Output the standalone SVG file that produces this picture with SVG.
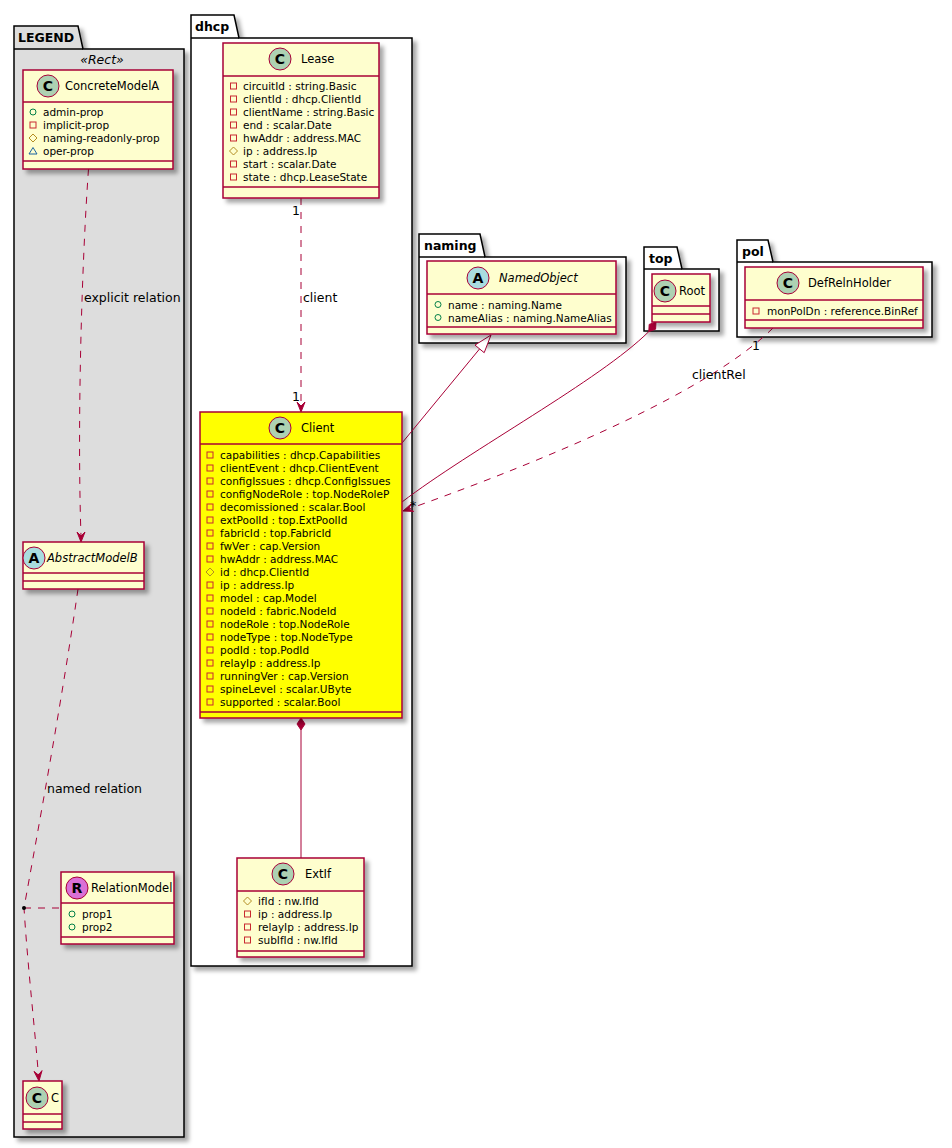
<svg xmlns="http://www.w3.org/2000/svg" xmlns:xlink="http://www.w3.org/1999/xlink" width="952" height="1148" viewBox="0 0 952 1148">
<style>
text{font-family:"DejaVu Sans","Liberation Sans",sans-serif;fill:#000}
.pkg{stroke:#000;stroke-width:1.5;fill:#fff}
.pkgl{stroke:#000;stroke-width:1.5;fill:none}
.ptxt{font-size:12.5px;font-weight:bold}
.cls{fill:#FEFECE;stroke:#A80036;stroke-width:1.5}
.sep{stroke:#A80036;stroke-width:1.5}
.cname{font-size:11.5px}
.ital{font-style:italic}
.attr{font-size:10.5px}
.badge{font-size:14px;font-weight:bold;text-anchor:middle}
.bc{fill:#ADD1B2;stroke:#A80036;stroke-width:1}
.ba{fill:#A9DCDF;stroke:#A80036;stroke-width:1}
.br{fill:#DA70D6;stroke:#A80036;stroke-width:1}
.edge{fill:none;stroke:#A80036;stroke-width:1}
.dash{stroke-dasharray:7,7}
.head{fill:#A80036;stroke:#A80036;stroke-width:1}
.lbl{font-size:12.5px}
</style>
<defs>
<filter id="sh" x="-10%" y="-10%" width="130%" height="130%">
<feDropShadow dx="4" dy="4" stdDeviation="2" flood-color="#000" flood-opacity="0.35"/>
</filter>
<g id="pv"><rect x="-3" y="-3" width="6" height="6" fill="none" stroke="#C82930" stroke-width="1"/></g>
<g id="pb"><circle r="3" fill="none" stroke="#038048" stroke-width="1"/></g>
<g id="pt"><path d="M0,-4 L4,0 L0,4 L-4,0 Z" fill="none" stroke="#B38D22" stroke-width="1"/></g>
<g id="pk"><path d="M0,-3.5 L4,3 L-4,3 Z" fill="none" stroke="#1963A0" stroke-width="1"/></g>
</defs>
<rect width="952" height="1148" fill="#fff"/>

<g id="packages">
<g id="pkg-legend">
<path class="pkg" style="fill:#DDDDDD" filter="url(#sh)" d="M14,26 H78 L83,49 H184 V1137 H14 Z"/>
<path class="pkgl" d="M14,49 H83"/>
<text class="ptxt" x="18" y="42">LEGEND</text>
<text x="102" y="64" style="font-size:12.5px;font-style:italic" text-anchor="middle">«Rect»</text>
</g>
<g id="pkg-dhcp">
<path class="pkg" filter="url(#sh)" d="M191,15 H234 L239,38 H412 V966 H191 Z"/>
<path class="pkgl" d="M191,38 H239"/>
<text class="ptxt" x="195" y="31">dhcp</text>
</g>
<g id="pkg-naming">
<path class="pkg" filter="url(#sh)" d="M419,234 H480 L485,257 H626 V343 H419 Z"/>
<path class="pkgl" d="M419,257 H485"/>
<text class="ptxt" x="424" y="250">naming</text>
</g>
<g id="pkg-top">
<path class="pkg" filter="url(#sh)" d="M644,247 H677 L682,269 H719 V331 H644 Z"/>
<path class="pkgl" d="M644,269 H682"/>
<text class="ptxt" x="649" y="263">top</text>
</g>
<g id="pkg-pol">
<path class="pkg" filter="url(#sh)" d="M737,240 H768 L773,262 H932 V337 H737 Z"/>
<path class="pkgl" d="M737,262 H773"/>
<text class="ptxt" x="742" y="256">pol</text>
</g>
</g>

<g id="connectors">
<path class="edge dash" d="M88.5,169 C82,260 77,420 81,536"/>
<path class="head" d="M81,542 L77,532 L81,536 L85,532 Z"/>
<text class="lbl" x="84" y="302">explicit relation</text>
<path class="edge dash" d="M78,589 C62,700 38,830 24,908 C28,970 35,1030 38.4,1075"/>
<path class="head" d="M39,1081 L34,1071.4 L38.4,1075 L42,1070.6 Z"/>
<text class="lbl" x="47" y="793">named relation</text>
<path class="edge dash" d="M24,908 H61"/>
<circle cx="24" cy="908" r="2" fill="#000"/>
<path class="edge dash" d="M301,198 V406"/>
<path class="head" d="M301,412 L297,402 L301,406 L305,402 Z"/>
<text class="lbl" x="292" y="215">1</text>
<text class="lbl" x="303" y="302">client</text>
<text class="lbl" x="292" y="401">1</text>
<path class="head" d="M301,718 L305,724 L301,730 L297,724 Z"/>
<path class="edge" d="M301,730 V858"/>
<path class="edge" d="M402,443 L479.6,348.9"/>
<path d="M491,335 L484.2,352.7 L475,345.1 Z" fill="#fff" stroke="#A80036" stroke-width="1"/>
<path class="head" d="M656,322 L655.6,329.2 L648.8,331.6 L649.2,324.4 Z"/>
<path class="edge" d="M648.8,331.6 C600,380 470,450 402,502"/>
<path class="edge dash" d="M773,328 C710,390 560,455 408.7,509"/>
<path class="head" d="M403,511 L413.7,511.4 L408.7,509 L411.1,503.9 Z"/>
<text class="lbl" x="752" y="350">1</text>
<text class="lbl" x="692" y="379">clientRel</text>
<text class="lbl" x="410" y="510">*</text>
</g>

<g id="ConcreteModelA">
<rect class="cls" filter="url(#sh)" x="23" y="70" width="150" height="99"/>
<line class="sep" x1="23" y1="102" x2="173" y2="102"/>
<line class="sep" x1="23" y1="161" x2="173" y2="161"/>
<circle class="bc" cx="48" cy="86" r="11"/>
<text class="badge" x="48" y="91">C</text>
<text class="cname" x="65" y="90">ConcreteModelA</text>
<use xlink:href="#pb" x="33" y="112"/><text class="attr" x="43" y="116">admin-prop</text>
<use xlink:href="#pv" x="33" y="125"/><text class="attr" x="43" y="129">implicit-prop</text>
<use xlink:href="#pt" x="33" y="138"/><text class="attr" x="43" y="142">naming-readonly-prop</text>
<use xlink:href="#pk" x="33" y="151"/><text class="attr" x="43" y="155">oper-prop</text>
</g>

<g id="AbstractModelB">
<rect class="cls" filter="url(#sh)" x="23" y="542" width="121" height="47"/>
<line class="sep" x1="23" y1="573" x2="144" y2="573"/>
<line class="sep" x1="23" y1="581" x2="144" y2="581"/>
<circle class="ba" cx="34" cy="558" r="11"/>
<text class="badge" x="34" y="563">A</text>
<text class="cname ital" x="47" y="562">AbstractModelB</text>
</g>

<g id="RelationModel">
<rect class="cls" filter="url(#sh)" x="61" y="872" width="113" height="72"/>
<line class="sep" x1="61" y1="903" x2="174" y2="903"/>
<line class="sep" x1="61" y1="937" x2="174" y2="937"/>
<circle class="br" cx="77" cy="888" r="11"/>
<text class="badge" x="77" y="893">R</text>
<text class="cname" x="91" y="892">RelationModel</text>
<use xlink:href="#pb" x="72" y="914"/><text class="attr" x="82" y="918">prop1</text>
<use xlink:href="#pb" x="72" y="927"/><text class="attr" x="82" y="931">prop2</text>
</g>

<g id="C">
<rect class="cls" filter="url(#sh)" x="23" y="1081" width="39" height="48"/>
<line class="sep" x1="23" y1="1114" x2="62" y2="1114"/>
<line class="sep" x1="23" y1="1122" x2="62" y2="1122"/>
<circle class="bc" cx="37" cy="1098" r="11"/>
<text class="badge" x="37" y="1103">C</text>
<text class="cname" x="51" y="1102">C</text>
</g>

<g id="Lease">
<rect class="cls" filter="url(#sh)" x="223" y="43" width="156" height="155"/>
<line class="sep" x1="223" y1="76" x2="379" y2="76"/>
<line class="sep" x1="223" y1="187" x2="379" y2="187"/>
<circle class="bc" cx="280" cy="59" r="11"/>
<text class="badge" x="280" y="64">C</text>
<text class="cname" x="301" y="63">Lease</text>
<use xlink:href="#pv" x="233.5" y="86"/><text class="attr" x="243" y="90">circuitId : string.Basic</text>
<use xlink:href="#pv" x="233.5" y="99"/><text class="attr" x="243" y="103">clientId : dhcp.ClientId</text>
<use xlink:href="#pv" x="233.5" y="112"/><text class="attr" x="243" y="116">clientName : string.Basic</text>
<use xlink:href="#pv" x="233.5" y="125"/><text class="attr" x="243" y="129">end : scalar.Date</text>
<use xlink:href="#pv" x="233.5" y="138"/><text class="attr" x="243" y="142">hwAddr : address.MAC</text>
<use xlink:href="#pt" x="233.5" y="151"/><text class="attr" x="243" y="155">ip : address.Ip</text>
<use xlink:href="#pv" x="233.5" y="164"/><text class="attr" x="243" y="168">start : scalar.Date</text>
<use xlink:href="#pv" x="233.5" y="177"/><text class="attr" x="243" y="181">state : dhcp.LeaseState</text>
</g>

<g id="Client">
<rect class="cls" filter="url(#sh)" style="fill:#FFFF00" x="200" y="412" width="202" height="306"/>
<line class="sep" x1="200" y1="444" x2="402" y2="444"/>
<line class="sep" x1="200" y1="712" x2="402" y2="712"/>
<circle class="bc" cx="280" cy="428" r="11"/>
<text class="badge" x="280" y="433">C</text>
<text class="cname" x="301" y="432">Client</text>
<use xlink:href="#pv" x="210" y="455"/><text class="attr" x="220" y="459">capabilities : dhcp.Capabilities</text>
<use xlink:href="#pv" x="210" y="468"/><text class="attr" x="220" y="472">clientEvent : dhcp.ClientEvent</text>
<use xlink:href="#pv" x="210" y="481"/><text class="attr" x="220" y="485">configIssues : dhcp.ConfigIssues</text>
<use xlink:href="#pv" x="210" y="494"/><text class="attr" x="220" y="498">configNodeRole : top.NodeRoleP</text>
<use xlink:href="#pv" x="210" y="507"/><text class="attr" x="220" y="511">decomissioned : scalar.Bool</text>
<use xlink:href="#pv" x="210" y="520"/><text class="attr" x="220" y="524">extPoolId : top.ExtPoolId</text>
<use xlink:href="#pv" x="210" y="533"/><text class="attr" x="220" y="537">fabricId : top.FabricId</text>
<use xlink:href="#pv" x="210" y="546"/><text class="attr" x="220" y="550">fwVer : cap.Version</text>
<use xlink:href="#pv" x="210" y="559"/><text class="attr" x="220" y="563">hwAddr : address.MAC</text>
<use xlink:href="#pt" x="210" y="572"/><text class="attr" x="220" y="576">id : dhcp.ClientId</text>
<use xlink:href="#pv" x="210" y="585"/><text class="attr" x="220" y="589">ip : address.Ip</text>
<use xlink:href="#pv" x="210" y="598"/><text class="attr" x="220" y="602">model : cap.Model</text>
<use xlink:href="#pv" x="210" y="611"/><text class="attr" x="220" y="615">nodeId : fabric.NodeId</text>
<use xlink:href="#pv" x="210" y="624"/><text class="attr" x="220" y="628">nodeRole : top.NodeRole</text>
<use xlink:href="#pv" x="210" y="637"/><text class="attr" x="220" y="641">nodeType : top.NodeType</text>
<use xlink:href="#pv" x="210" y="650"/><text class="attr" x="220" y="654">podId : top.PodId</text>
<use xlink:href="#pv" x="210" y="663"/><text class="attr" x="220" y="667">relayIp : address.Ip</text>
<use xlink:href="#pv" x="210" y="676"/><text class="attr" x="220" y="680">runningVer : cap.Version</text>
<use xlink:href="#pv" x="210" y="689"/><text class="attr" x="220" y="693">spineLevel : scalar.UByte</text>
<use xlink:href="#pv" x="210" y="702"/><text class="attr" x="220" y="706">supported : scalar.Bool</text>
</g>

<g id="ExtIf">
<rect class="cls" filter="url(#sh)" x="237" y="858" width="127" height="99"/>
<line class="sep" x1="237" y1="891" x2="364" y2="891"/>
<line class="sep" x1="237" y1="951" x2="364" y2="951"/>
<circle class="bc" cx="283" cy="874" r="11"/>
<text class="badge" x="283" y="879">C</text>
<text class="cname" x="305" y="878">ExtIf</text>
<use xlink:href="#pt" x="247.5" y="901"/><text class="attr" x="258" y="905">ifId : nw.IfId</text>
<use xlink:href="#pv" x="247.5" y="914"/><text class="attr" x="258" y="918">ip : address.Ip</text>
<use xlink:href="#pv" x="247.5" y="927"/><text class="attr" x="258" y="931">relayIp : address.Ip</text>
<use xlink:href="#pv" x="247.5" y="940"/><text class="attr" x="258" y="944">subIfId : nw.IfId</text>
</g>

<g id="NamedObject">
<rect class="cls" filter="url(#sh)" x="427" y="261" width="189" height="73"/>
<line class="sep" x1="427" y1="294" x2="616" y2="294"/>
<line class="sep" x1="427" y1="327" x2="616" y2="327"/>
<circle class="ba" cx="478" cy="278" r="11"/>
<text class="badge" x="478" y="283">A</text>
<text class="cname ital" x="499" y="282">NamedObject</text>
<use xlink:href="#pb" x="438" y="304.5"/><text class="attr" x="448" y="308.5">name : naming.Name</text>
<use xlink:href="#pb" x="438" y="317.5"/><text class="attr" x="448" y="321.5">nameAlias : naming.NameAlias</text>
</g>

<g id="Root">
<rect class="cls" filter="url(#sh)" x="652" y="274" width="58" height="48"/>
<line class="sep" x1="652" y1="306" x2="710" y2="306"/>
<line class="sep" x1="652" y1="314" x2="710" y2="314"/>
<circle class="bc" cx="665" cy="291" r="11"/>
<text class="badge" x="665" y="296">C</text>
<text class="cname" x="679" y="295">Root</text>
</g>

<g id="DefRelnHolder">
<rect class="cls" filter="url(#sh)" x="745" y="267" width="178" height="61"/>
<line class="sep" x1="745" y1="300" x2="923" y2="300"/>
<line class="sep" x1="745" y1="320" x2="923" y2="320"/>
<circle class="bc" cx="788" cy="283" r="11"/>
<text class="badge" x="788" y="288">C</text>
<text class="cname" x="808" y="287">DefRelnHolder</text>
<use xlink:href="#pv" x="756" y="311"/><text class="attr" x="767" y="315">monPolDn : reference.BinRef</text>
</g>
</svg>
